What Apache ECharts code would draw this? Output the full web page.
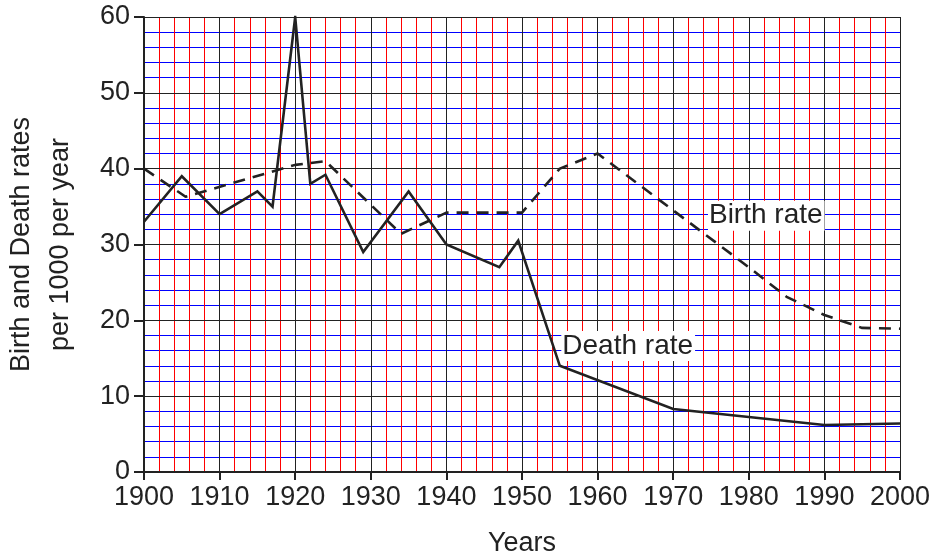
<!DOCTYPE html>
<html>
<head>
<meta charset="utf-8">
<script src="https://cdn.jsdelivr.net/npm/echarts@6/dist/echarts.min.js"></script>
<style>
html,body{margin:0;padding:0;background:#fff;}
#chart{width:935px;height:557px;}
</style>
</head>
<body>
<div id="chart"></div>
<script>
// Data
var deathYears = [1900, 1905, 1910, 1915, 1917, 1920, 1922, 1924, 1929, 1935, 1940, 1947, 1949.5, 1955, 1970, 1990, 2000];
var deathRates = [33, 39, 34, 37, 35, 60, 38, 39.2, 29, 37, 30, 27, 30.5, 14, 8.3, 6.2, 6.4];
var birthYears = [1900, 1905.5, 1920, 1924, 1934, 1940, 1950, 1955, 1960, 1970, 1980, 1985, 1990, 1995, 2000];
var birthRates = [40, 36.3, 40.5, 41, 31.4, 34.2, 34.2, 40, 42, 34.5, 27, 23.1, 20.7, 19.0, 18.9];
var xTicks = [1900, 1910, 1920, 1930, 1940, 1950, 1960, 1970, 1980, 1990, 2000];
var yTicks = [0, 10, 20, 30, 40, 50, 60];
var birthLabel = {text: 'Birth rate', year: 1974.6, value: 33.8};
var deathLabel = {text: 'Death rate', year: 1955.2, value: 16.6};

function pairs(xs, ys) { return xs.map(function (x, i) { return [x, ys[i]]; }); }

var FONT = '"Liberation Sans", Arial, sans-serif';
var INK = '#222';
var X_MIN = xTicks[0], X_MAX = xTicks[xTicks.length - 1];
var Y_MIN = yTicks[0], Y_MAX = yTicks[yTicks.length - 1];

var chart = echarts.init(document.getElementById('chart'), null, {renderer: 'canvas'});
chart.setOption({
  animation: false,
  backgroundColor: '#fff',
  grid: {left: 144, right: 35, top: 17, bottom: 85, containLabel: false, outerBoundsMode: 'none'},
  xAxis: [{
    type: 'value', z: 3, position: 'bottom',
    min: X_MIN, max: X_MAX, interval: 10,
    name: 'Years', nameLocation: 'middle', nameGap: 58,
    nameTextStyle: {fontFamily: FONT, fontSize: 27, color: INK},
    axisLine: {show: true, onZero: false, lineStyle: {color: INK, width: 2}},
    axisTick: {show: true, length: 8, lineStyle: {color: INK, width: 2}},
    axisLabel: {fontFamily: FONT, fontSize: 27, color: INK, margin: 12, hideOverlap: false,
      formatter: function (v) { return xTicks.indexOf(v) >= 0 ? String(v) : ''; }},
    splitLine: {show: true, lineStyle: {color: '#222', width: 1}}
  }, {
    type: 'value', z: 1, position: 'bottom',
    min: X_MIN, max: X_MAX, interval: 2,
    axisLine: {show: false}, axisTick: {show: false}, axisLabel: {show: false},
    splitLine: {show: true, lineStyle: {color: '#ff0000', width: 1}}
  }],
  yAxis: [{
    type: 'value', z: 3, position: 'left',
    min: Y_MIN, max: Y_MAX, interval: 10,
    name: 'Birth and Death rates\nper 1000 per year', nameLocation: 'middle', nameGap: 64, nameRotate: 90,
    nameTextStyle: {fontFamily: FONT, fontSize: 27, color: INK, lineHeight: 39},
    axisLine: {show: true, onZero: false, lineStyle: {color: INK, width: 2}},
    axisTick: {show: true, length: 10, lineStyle: {color: INK, width: 2}},
    axisLabel: {fontFamily: FONT, fontSize: 27, color: INK, margin: 14,
      formatter: function (v) { return yTicks.indexOf(v) >= 0 ? String(v) : ''; }},
    splitLine: {show: true, lineStyle: {color: '#222', width: 1}}
  }, {
    type: 'value', z: 1, position: 'left',
    min: Y_MIN, max: Y_MAX, interval: 2,
    axisLine: {show: false}, axisTick: {show: false}, axisLabel: {show: false},
    splitLine: {show: true, lineStyle: {color: '#0000ff', width: 1}}
  }],
  series: [
    {
      name: 'Death rate', type: 'line', data: pairs(deathYears, deathRates),
      xAxisIndex: 0, yAxisIndex: 0,
      showSymbol: false, symbol: 'none',
      lineStyle: {color: INK, width: 2.6, type: 'solid', join: 'miter'},
      z: 5,
      markPoint: {
        symbol: 'rect', symbolSize: 0, silent: true,
        data: [{coord: [deathLabel.year, deathLabel.value], value: deathLabel.text}],
        label: {show: true, position: 'right', distance: 0, formatter: deathLabel.text,
          fontFamily: FONT, fontSize: 28, color: INK, backgroundColor: '#fff', padding: [2, 2, 0, 1]}
      }
    },
    {
      name: 'Birth rate', type: 'line', data: pairs(birthYears, birthRates),
      xAxisIndex: 0, yAxisIndex: 0,
      showSymbol: false, symbol: 'none',
      lineStyle: {color: INK, width: 2.6, type: [12, 8]},
      z: 4,
      markPoint: {
        symbol: 'rect', symbolSize: 0, silent: true,
        data: [{coord: [birthLabel.year, birthLabel.value], value: birthLabel.text}],
        label: {show: true, position: 'right', distance: 0, formatter: birthLabel.text,
          fontFamily: FONT, fontSize: 28, color: INK, backgroundColor: '#fff', padding: [2, 2, 0, 1]}
      }
    }
  ]
});
</script>
</body>
</html>
